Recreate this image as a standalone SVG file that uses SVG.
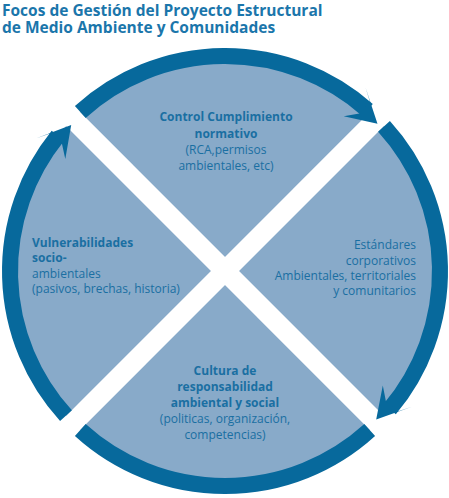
<svg xmlns="http://www.w3.org/2000/svg" width="449" height="498" viewBox="0 0 449 498">
<style>
.t{font-family:"Open Sans","Noto Sans",sans-serif;fill:#1a6fa2}
.title{font-size:15.5px;font-weight:700;fill:#1b76ab}
.b{font-size:12px;font-weight:700}
.r{font-size:12px;font-weight:400}
.arc{fill:none;stroke:#07699c;stroke-width:16}
.head{fill:#07699c}
.band{stroke:#ffffff;stroke-width:20}
</style>
<rect width="449" height="498" fill="#ffffff"/>
<g id="title">
<text class="t title" x="2" y="15.5">Focos de Gestión del Proyecto Estructural</text>
<text class="t title" x="2" y="32.5">de Medio Ambiente y Comunidades</text>
</g>
<g id="disc">
<circle cx="225" cy="271" r="215" fill="#88aac9"/>
<line class="band" x1="55.3" y1="101.3" x2="394.7" y2="440.7"/>
<line class="band" x1="394.7" y1="101.3" x2="55.3" y2="440.7"/>
</g>
<g id="connectors">
<path class="arc" d="M80.3,112.0 A215,215 0 0 1 367.5,110.0"/>
<path class="arc" d="M384.0,126.3 A215,215 0 0 1 389.7,409.2"/>
<path class="arc" d="M369.7,430.0 A215,215 0 0 1 80.3,430.0"/>
<path class="arc" d="M66.0,415.7 A215,215 0 0 1 57.9,135.7"/>
<path class="head" d="M377.5,123.7 L365.6,87.7 L369.8,101.4 L359.4,113.6 L343.7,116.3 Z"/>
<path class="head" d="M376.2,419.6 L411.9,406.8 L398.3,411.3 L385.9,401.3 L382.8,385.6 Z"/>
<path class="head" d="M71.2,125.1 L35.8,138.5 L49.3,133.7 L61.9,143.6 L65.3,159.1 Z"/>
</g>
<g id="node-control" text-anchor="middle">
<text class="t b" x="226" y="121">Control Cumplimiento</text>
<text class="t b" x="226" y="138">normativo</text>
<text class="t r" x="226" y="154">(RCA,permisos</text>
<text class="t r" x="226" y="170">ambientales, etc)</text>
</g>
<g id="node-estandares" text-anchor="end">
<text class="t r" x="416" y="249">Estándares </text>
<text class="t r" x="416" y="265">corporativos</text>
<text class="t r" x="416" y="280">Ambientales, territoriales</text>
<text class="t r" x="416" y="295">y comunitarios</text>
</g>
<g id="node-cultura" text-anchor="middle">
<text class="t b" x="225" y="375">Cultura de</text>
<text class="t b" x="225" y="391">responsabilidad</text>
<text class="t b" x="225" y="407">ambiental y social</text>
<text class="t r" x="225" y="423">(politicas, organización,</text>
<text class="t r" x="225" y="439">competencias)</text>
</g>
<g id="node-vulnerabilidades">
<text class="t b" x="32" y="247">Vulnerabilidades</text>
<text class="t b" x="32" y="262">socio-</text>
<text class="t r" x="32" y="278">ambientales</text>
<text class="t r" x="32" y="293">(pasivos, brechas, historia)</text>
</g>
</svg>
